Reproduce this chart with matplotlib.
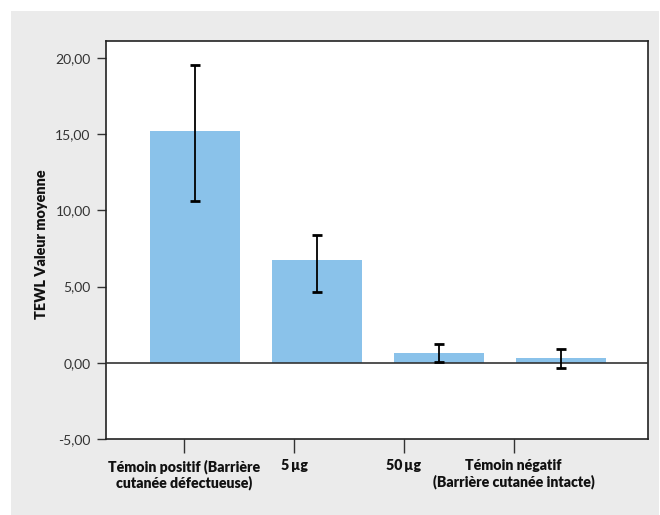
import matplotlib.pyplot as plt
import numpy as np
from matplotlib.patches import Rectangle
from matplotlib.ticker import FuncFormatter

plt.rcParams['font.family'] = ['Lato', 'DejaVu Sans']

# data
categories = ["Témoin positif (Barrière\ncutanée défectueuse)", "5\u2009µg", "50\u2009µg",
              "Témoin négatif\n(Barrière cutanée intacte)"]
means = [15.2, 6.71, 0.66, 0.30]
err_low = [10.59, 4.67, 0.05, -0.33]
err_high = [19.54, 8.36, 1.25, 0.92]

bar_color = '#8ac2ea'

fig = plt.figure(figsize=(6.6, 5.15), dpi=100)
# gray panel behind the plot
fig.add_artist(Rectangle((11 / 660, 0), 648 / 660, 504 / 515, transform=fig.transFigure,
                         facecolor='#ebebeb', edgecolor='none', zorder=-10))
ax = fig.add_axes([106 / 660, 1 - 439 / 515, 542 / 660, 398 / 515])

x = np.arange(len(means))
m = np.array(means)
yerr = [m - np.array(err_low), np.array(err_high) - m]

ax.bar(x, means, width=0.74, color=bar_color, zorder=2)
ax.axhline(0, color='#333333', lw=1.2, zorder=3)
ax.errorbar(x, means, yerr=yerr, fmt='none', ecolor='black', elinewidth=1.3,
            capsize=3.5, capthick=2, zorder=4)

ax.set_xlim(-0.73, 3.71)
ax.set_ylim(-5, 21.1)
ax.set_yticks([-5, 0, 5, 10, 15, 20])
ax.yaxis.set_major_formatter(FuncFormatter(lambda v, _: f'{v:.2f}'.replace('.', ',')))

# category ticks sit slightly left of the bars, like the original
ax.set_xticks(x * 0.9 - 0.09)
ax.set_xticklabels(categories, fontsize=10.2, fontweight='heavy', color='#111111',
                   linespacing=1.15)
ax.tick_params(axis='x', length=10, width=1, color='#333333', pad=4.5)
ax.tick_params(axis='y', length=6.5, width=1, color='#333333', labelsize=10,
               labelcolor='#333333', pad=4.5)

for s in ax.spines.values():
    s.set_color('#222222')
    s.set_linewidth(1.2)

ax.set_ylabel('TEWL Valeur moyenne', fontsize=10.4, fontweight='heavy', color='#111111')
ax.yaxis.set_label_coords(-0.107, 0.49)

fig.savefig('out.png', dpi=100)
